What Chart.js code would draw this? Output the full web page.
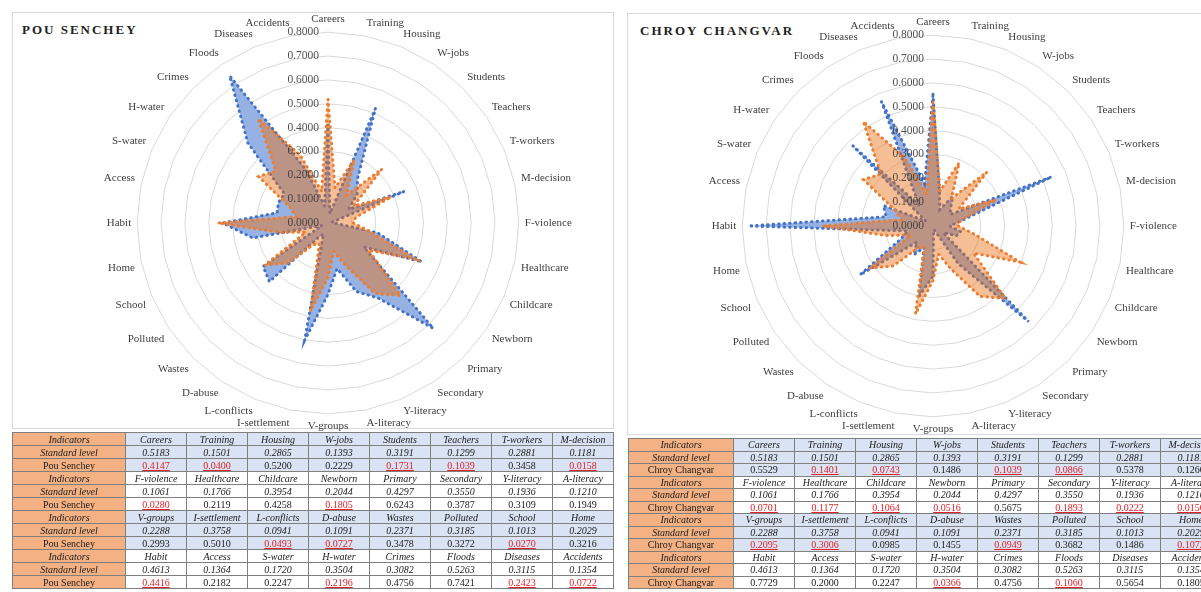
<!DOCTYPE html>
<html>
<head>
<meta charset="utf-8">
<script src="https://cdn.jsdelivr.net/npm/chart.js@4/dist/chart.umd.min.js"></script>
<style>
    body { margin: 0; width: 1201px; height: 592px; overflow: hidden; background: #fff; position: relative; font-family: "Liberation Serif", serif; }
    .panel { position: absolute; border: 1px solid #d9d9d9; background: #fff; }
    .title { position: absolute; font-weight: bold; font-size: 13px; letter-spacing: 2px; color: #222; }
    canvas { position: absolute; }
    table { position: absolute; border-collapse: collapse; table-layout: fixed; font-size: 10px; color: #1a1a1a; }
    td { border: 1px solid #7f7f7f; text-align: center; padding: 0; white-space: nowrap; overflow: hidden; line-height: 11px; }
    td.first { background: #f4b183; }
    tr.blue td { background: #dae3f3; }
    tr.blue td.first { background: #f4b183; }
    .it { font-style: italic; }
    .low { color: #e0202a; text-decoration: underline; }
</style>
</head>
<body>
<div class="panel" style="left:12px; top:12px; width:600px; height:415px;"></div>
<div class="panel" style="left:627px; top:13px; width:600px; height:420px;"></div>
<div class="title" style="left:22px; top:22px;">POU SENCHEY</div>
<div class="title" style="left:640px; top:23px;">CHROY CHANGVAR</div>
<canvas id="radar-pou" width="520" height="420" style="left:70px; top:13px;"></canvas>
<canvas id="radar-chroy" width="520" height="420" style="left:675px; top:16px;"></canvas>
<table id="table-pou" style="left:12px; top:432px; width:601px;"></table>
<table id="table-chroy" style="left:628px; top:438px; width:593px;"></table>
<script>
const indicators = ["Careers", "Training", "Housing", "W-jobs", "Students", "Teachers", "T-workers", "M-decision",
    "F-violence", "Healthcare", "Childcare", "Newborn", "Primary", "Secondary", "Y-literacy", "A-literacy",
    "V-groups", "I-settlement", "L-conflicts", "D-abuse", "Wastes", "Polluted", "School", "Home",
    "Habit", "Access", "S-water", "H-water", "Crimes", "Floods", "Diseases", "Accidents"]

const standardLevel = [0.5183, 0.1501, 0.2865, 0.1393, 0.3191, 0.1299, 0.2881, 0.1181,
    0.1061, 0.1766, 0.3954, 0.2044, 0.4297, 0.3550, 0.1936, 0.1210,
    0.2288, 0.3758, 0.0941, 0.1091, 0.2371, 0.3185, 0.1013, 0.2029,
    0.4613, 0.1364, 0.1720, 0.3504, 0.3082, 0.5263, 0.3115, 0.1354]

const pouSenchey = [0.4147, 0.0400, 0.5200, 0.2229, 0.1731, 0.1039, 0.3458, 0.0158,
    0.0280, 0.2119, 0.4258, 0.1805, 0.6243, 0.3787, 0.3109, 0.1949,
    0.2993, 0.5010, 0.0493, 0.0727, 0.3478, 0.3272, 0.0270, 0.3216,
    0.4416, 0.2182, 0.2247, 0.2196, 0.4756, 0.7421, 0.2423, 0.0722]

const chroyChangvar = [0.5529, 0.1401, 0.0743, 0.1486, 0.1039, 0.0866, 0.5378, 0.1260,
    0.0701, 0.1177, 0.1064, 0.0516, 0.5675, 0.1893, 0.0222, 0.0150,
    0.2095, 0.3006, 0.0985, 0.1455, 0.0949, 0.3682, 0.1486, 0.1072,
    0.7729, 0.2000, 0.2247, 0.0366, 0.4756, 0.1060, 0.5654, 0.1805]

const scaleMax = 0.8
const scaleStep = 0.1

// labels de l'axe dessinés à gauche du centre, par-dessus les données
const tickLabels = {
    id: 'tickLabels',
    afterDatasetsDraw(chart) {
        const r = chart.scales.r
        const ctx = chart.ctx
        ctx.save()
        ctx.font = '11.5px "Liberation Serif"'
        ctx.fillStyle = 'rgba(50, 50, 50, 0.85)'
        ctx.textAlign = 'right'
        ctx.textBaseline = 'middle'
        for (let t of r.ticks) {
            ctx.fillText(t.value.toFixed(4), r.xCenter - 9, r.yCenter - r.getDistanceFromCenterForValue(t.value))
        }
        ctx.restore()
    }
}

function radar(canvasId, placeName, values) {
    const data = {
        labels: indicators,
        datasets: [{
            label: "Standard level",
            data: standardLevel,
            backgroundColor: 'rgba(233, 110, 20, 0.45)',
            borderColor: '#ed7d31',
            borderWidth: 3,
            borderDash: [0.5, 5],
            borderCapStyle: 'round',
            pointRadius: 0,
        }, {
            label: placeName,
            data: values,
            backgroundColor: 'rgb(150, 178, 228)',
            borderColor: '#4472c4',
            borderWidth: 3,
            borderDash: [0.5, 5],
            borderCapStyle: 'round',
            pointRadius: 0,
        }],
    }
    const config = {
        type: "radar",
        data: data,
        options: {
            responsive: false,
            animation: false,
            plugins: { legend: { display: false }, tooltip: { enabled: false } },
            scales: {
                r: {
                    min: 0,
                    max: scaleMax,
                    ticks: { stepSize: scaleStep, display: false },
                    grid: { color: '#d9d9d9', lineWidth: 1 },
                    angleLines: { display: false },
                    pointLabels: {
                        padding: 6,
                        color: '#404040',
                        font: { family: '"Liberation Serif"', size: 11 },
                    },
                },
            },
        },
        plugins: [tickLabels],
    }
    new Chart(document.getElementById(canvasId), config)
}

function table(tableId, placeName, values) {
    const el = document.getElementById(tableId)
    let html = '<colgroup><col style="width:' + (tableId == 'table-pou' ? 113 : 105) + 'px">'
    for (let i = 0; i < 8; i++) html += '<col style="width:61px">'
    html += '</colgroup>'
    const rowH = tableId == 'table-pou' ? 13 : 12.5
    for (let b = 0; b < 4; b++) {
        const cls = b % 2 == 0 ? 'blue' : ''
        let r1 = '<tr class="' + cls + '" style="height:' + rowH + 'px"><td class="first it">Indicators</td>'
        let r2 = '<tr class="' + cls + '" style="height:' + rowH + 'px"><td class="first it">Standard level</td>'
        let r3 = '<tr class="' + cls + '" style="height:' + rowH + 'px"><td class="first">' + placeName + '</td>'
        for (let i = b * 8; i < b * 8 + 8; i++) {
            r1 += '<td class="it">' + indicators[i] + '</td>'
            r2 += '<td class="it">' + standardLevel[i].toFixed(4) + '</td>'
            r3 += '<td' + (values[i] < standardLevel[i] ? ' class="low"' : '') + '>' + values[i].toFixed(4) + '</td>'
        }
        html += r1 + '</tr>' + r2 + '</tr>' + r3 + '</tr>'
    }
    el.innerHTML = html
}

radar("radar-pou", "Pou Senchey", pouSenchey)
radar("radar-chroy", "Chroy Changvar", chroyChangvar)
table("table-pou", "Pou Senchey", pouSenchey)
table("table-chroy", "Chroy Changvar", chroyChangvar)
</script>
</body>
</html>
